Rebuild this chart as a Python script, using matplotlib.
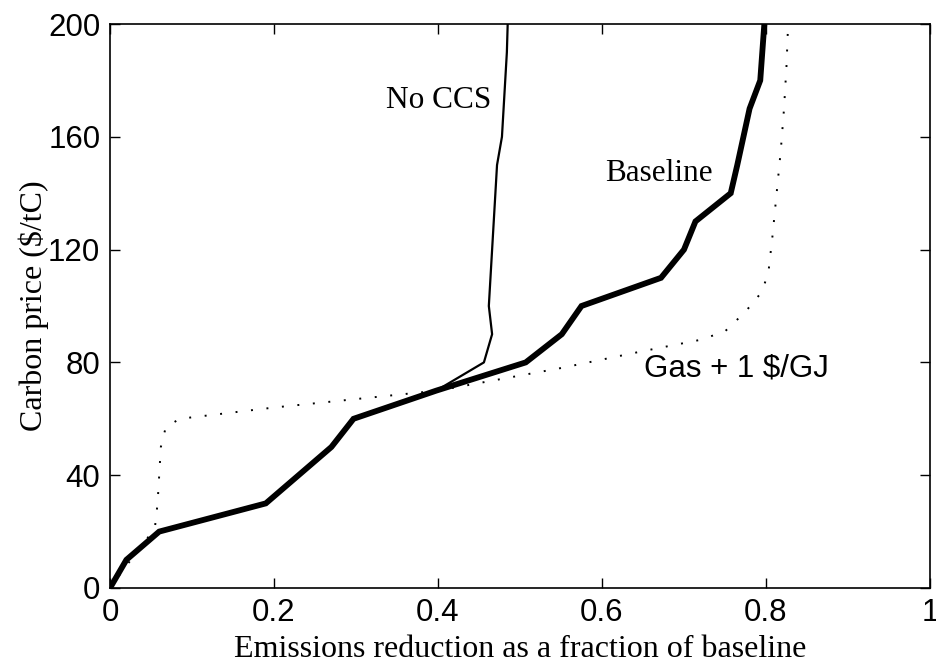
import matplotlib
matplotlib.use("Agg")
import matplotlib.pyplot as plt

# Baseline (thick line)
base_x = [0.0, 0.02, 0.06, 0.19, 0.23, 0.27, 0.297, 0.398, 0.507, 0.551, 0.575, 0.672, 0.70, 0.714, 0.757, 0.765, 0.78, 0.793, 0.798]
base_y = [0, 10, 20, 30, 40, 50, 60, 70, 80, 90, 100, 110, 120, 130, 140, 150, 170, 180, 200]

# No CCS (thin line)
noccs_x = [0.0, 0.02, 0.06, 0.19, 0.23, 0.27, 0.297, 0.398, 0.456, 0.466, 0.462, 0.464, 0.466, 0.468, 0.470, 0.472, 0.478, 0.480, 0.482, 0.484, 0.485]
noccs_y = [0, 10, 20, 30, 40, 50, 60, 70, 80, 90, 100, 110, 120, 130, 140, 150, 160, 170, 180, 190, 200]

# Gas + 1 $/GJ (dotted line)
gas_x = [0.0, 0.02, 0.04, 0.055, 0.058, 0.06, 0.062, 0.068, 0.085, 0.2, 0.4, 0.55, 0.65, 0.72, 0.75, 0.775, 0.795, 0.803, 0.808, 0.813, 0.818, 0.822, 0.825, 0.827]
gas_y = [0, 8, 15, 22, 30, 40, 50, 57, 60, 64, 70, 78, 84, 88, 91, 98, 105, 112, 125, 140, 155, 170, 185, 200]

xticks = [0, 0.2, 0.4, 0.6, 0.8, 1]
xticklabels = ["0", "0.2", "0.4", "0.6", "0.8", "1"]
yticks = [0, 40, 80, 120, 160, 200]

serif = ["Liberation Serif", "DejaVu Serif"]
sans = ["Liberation Sans", "DejaVu Sans"]

fig = plt.figure(figsize=(9.37, 6.62), dpi=100)
ax = fig.add_axes([0.1174, 0.1118, 0.8751, 0.8519])

ax.plot(base_x, base_y, color="black", lw=4.2, solid_joinstyle="miter")
ax.plot(noccs_x, noccs_y, color="black", lw=1.6)
ax.plot(gas_x, gas_y, color="black", lw=1.4, linestyle=(0, (1, 7)))

ax.set_xlim(0, 1)
ax.set_ylim(0, 200)
ax.set_xticks(xticks)
ax.set_xticklabels(xticklabels)
ax.set_yticks(yticks)
ax.tick_params(direction="in", top=True, right=True, length=7, width=1, labelsize=22.5, pad=7)
for lab in ax.get_xticklabels() + ax.get_yticklabels():
    lab.set_family(sans)
for sp in ax.spines.values():
    sp.set_linewidth(1.2)

ax.set_xlabel("Emissions reduction as a fraction of baseline", family=serif, fontsize=23, labelpad=5)
ax.set_ylabel("Carbon price ($/tC)", family=serif, fontsize=23, labelpad=-1)

ax.text(0.401, 173, "No CCS", family=serif, fontsize=22.5, ha="center", va="center")
ax.text(0.670, 147, "Baseline", family=serif, fontsize=22.5, ha="center", va="center")
ax.text(0.764, 78, "Gas + 1 $/GJ", family=sans, fontsize=22.5, ha="center", va="center")

fig.savefig("out.png", dpi=100)
